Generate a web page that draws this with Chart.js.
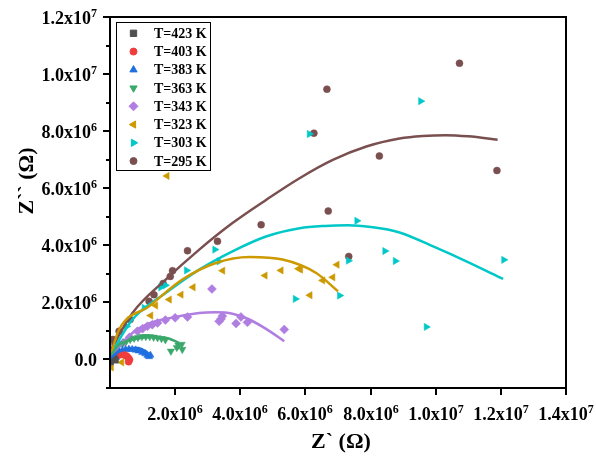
<!DOCTYPE html>
<html>
<head>
<meta charset="utf-8">
<script src="https://cdn.jsdelivr.net/npm/chart.js@4/dist/chart.umd.min.js"></script>
<style>
  body { margin: 0; background: #fff; }
  #chart { display: block; }
</style>
</head>
<body>
<canvas id="chart" width="596" height="459"></canvas>
<script>
// series labels
const labels = ['T=423 K', 'T=403 K', 'T=383 K', 'T=363 K', 'T=343 K', 'T=323 K', 'T=303 K', 'T=295 K'];

// measured points (Z', Z'')
const x423 = [1.0e4, 3.0e4, 6.0e4, 9.0e4, 1.2e5, 1.6e5];
const y423 = [-8e4, 2e4, 9e4, 1.2e5, 6e4, -2e4];
const x403 = [2.0e5, 2.8e5, 3.6e5, 4.4e5, 5.1e5, 5.6e5, 6.0e5, 5.7e5];
const y403 = [1.0e5, 1.6e5, 1.8e5, 1.6e5, 1.2e5, 6e4, -1e4, -8e4];
const x383 = [2e4, 1.0e5, 1.8e5, 2.8e5, 3.8e5, 4.8e5, 5.8e5, 6.8e5, 7.9e5, 8.8e5, 9.9e5, 1.08e6, 1.15e6, 1.2e6, 1.24e6];
const y383 = [2e4, 1.3e5, 2.1e5, 2.7e5, 3.2e5, 3.5e5, 3.6e5, 3.5e5, 3.3e5, 3.0e5, 2.5e5, 2.0e5, 1.4e5, 1.0e5, 1.5e5];
const x363 = [5e4, 1.5e5, 2.6e5, 3.8e5, 5.0e5, 6.2e5, 7.4e5, 8.6e5, 9.8e5, 1.1e6, 1.22e6, 1.34e6, 1.46e6, 1.58e6, 1.7e6, 1.87e6, 2.05e6, 2.2e6, 2.22e6, 2.1e6];
const y363 = [1.5e5, 3.3e5, 4.6e5, 5.6e5, 6.4e5, 7.0e5, 7.4e5, 7.7e5, 8.0e5, 8.0e5, 8.0e5, 7.8e5, 7.6e5, 7.3e5, 6.9e5, 2.9e5, 4.2e5, 5.3e5, 3.5e5, 5.0e5];
const x343 = [5e4, 2.0e5, 4.0e5, 6.0e5, 8.4e5, 1.0e6, 1.15e6, 1.3e6, 1.46e6, 1.7e6, 2.0e6, 2.38e6, 3.13e6, 3.35e6, 3.41e6, 3.45e6, 3.87e6, 4.02e6, 4.22e6, 5.35e6];
const y343 = [1e5, 3.5e5, 5.8e5, 7.8e5, 9.9e5, 1.08e6, 1.16e6, 1.22e6, 1.28e6, 1.38e6, 1.46e6, 1.49e6, 2.47e6, 1.34e6, 1.42e6, 1.52e6, 1.26e6, 1.49e6, 1.30e6, 1.05e6];
const x323 = [4e4, 3.6e5, 1.25e6, 1.4e6, 1.75e6, 1.82e6, 2.18e6, 2.55e6, 3.46e6, 4.76e6, 5.25e6, 5.79e6, 5.85e6, 6.14e6, 6.53e6, 6.84e6, 6.97e6];
const y323 = [-2.8e5, -1e5, 1.54e6, 1.89e6, 6.43e6, 2.1e6, 2.27e6, 2.53e6, 3.11e6, 2.94e6, 3.12e6, 3.18e6, 3.15e6, 2.25e6, 2.77e6, 2.88e6, 3.32e6];
const x303 = [2e4, 1.7e5, 5.1e5, 1.05e6, 1.56e6, 1.7e6, 2.35e6, 3.22e6, 3.35e6, 5.69e6, 6.12e6, 7.05e6, 7.32e6, 7.58e6, 8.44e6, 8.76e6, 9.54e6, 9.71e6, 1.209e7];
const y303 = [-1e5, 0, 1.16e6, 1.81e6, 2.53e6, 2.6e6, 3.12e6, 3.85e6, 3.44e6, 2.12e6, 7.9e6, 2.24e6, 3.46e6, 4.86e6, 3.80e6, 3.45e6, 9.05e6, 1.14e6, 3.49e6];
const x295 = [2e4, 9e4, 1.5e5, 2.8e5, 6.2e5, 1.2e6, 1.35e6, 1.63e6, 1.85e6, 1.92e6, 2.38e6, 3.30e6, 4.64e6, 6.26e6, 6.66e6, 6.70e6, 7.33e6, 8.27e6, 1.073e7, 1.188e7];
const y295 = [3e5, 7e5, 5.5e5, 9.9e5, 1.40e6, 2.04e6, 2.27e6, 2.66e6, 2.91e6, 3.11e6, 3.81e6, 4.14e6, 4.72e6, 7.93e6, 9.47e6, 5.2e6, 3.61e6, 7.13e6, 1.038e7, 6.62e6];

// fitted arcs
const fit383x = [2e4, 2.5e5, 4.8e5, 7.9e5, 1.1e6, 1.25e6];
const fit383y = [5e4, 2.6e5, 3.5e5, 4.1e5, 2.9e5, 1.2e5];
const fit363x = [3e4, 2.8e5, 6.9e5, 1.2e6, 1.71e6, 2.12e6];
const fit363y = [1.5e5, 5.2e5, 7.0e5, 7.9e5, 7.6e5, 5.8e5];
const fit343x = [3e4, 6.9e5, 1.2e6, 1.71e6, 2.74e6, 3.25e6, 3.76e6, 4.28e6, 4.79e6, 5.35e6];
const fit343y = [1.5e5, 9.3e5, 1.26e6, 1.42e6, 1.63e6, 1.65e6, 1.60e6, 1.40e6, 1.07e6, 6.4e5];
const fit323x = [3e4, 2.8e5, 1.2e6, 2.22e6, 3.25e6, 4.28e6, 5.30e6, 6.33e6, 7.0e6];
const fit323y = [2e5, 1.05e6, 1.86e6, 2.80e6, 3.38e6, 3.59e6, 3.50e6, 3.03e6, 2.39e6];
const fit303x = [3e4, 6.9e5, 1.71e6, 2.74e6, 3.76e6, 4.79e6, 5.82e6, 6.6e6, 7.3e6, 8.0e6, 8.89e6, 9.92e6, 1.094e7, 1.207e7];
const fit303y = [2e5, 1.40e6, 2.33e6, 3.15e6, 3.79e6, 4.31e6, 4.60e6, 4.68e6, 4.70e6, 4.64e6, 4.45e6, 3.96e6, 3.44e6, 2.82e6];
const fit295x = [3e4, 6.9e5, 1.71e6, 2.74e6, 3.76e6, 4.79e6, 5.82e6, 6.84e6, 7.87e6, 8.89e6, 9.6e6, 1.03e7, 1.1e7, 1.19e7];
const fit295y = [3.5e5, 1.63e6, 2.80e6, 3.85e6, 4.78e6, 5.59e6, 6.35e6, 6.99e6, 7.46e6, 7.74e6, 7.83e6, 7.86e6, 7.82e6, 7.70e6];

// axis ticks
const xTicks = [2e6, 4e6, 6e6, 8e6, 1e7, 1.2e7, 1.4e7];
const xTickBase = ['2.0x10', '4.0x10', '6.0x10', '8.0x10', '1.0x10', '1.2x10', '1.4x10'];
const xTickExp = ['6', '6', '6', '6', '7', '7', '7'];
const yTicks = [0, 2e6, 4e6, 6e6, 8e6, 1e7, 1.2e7];
const yTickBase = ['0.0', '2.0x10', '4.0x10', '6.0x10', '8.0x10', '1.0x10', '1.2x10'];
const yTickExp = ['', '6', '6', '6', '6', '7', '7'];
const yMinor = [-1e6, 1e6, 3e6, 5e6, 7e6, 9e6, 1.1e7];

const colors = ['#505050', '#f03c3c', '#1f6fe0', '#3aa86b', '#b07ee0', '#cc9900', '#00c8c8', '#7a4f4f'];
const styles = [
  { pointStyle: 'rect', rotation: 0, radius: 4.5 },
  { pointStyle: 'circle', rotation: 0, radius: 3.5 },
  { pointStyle: 'triangle', rotation: 0, radius: 4.2 },
  { pointStyle: 'triangle', rotation: 180, radius: 4.2 },
  { pointStyle: 'rectRot', rotation: 0, radius: 4.5 },
  { pointStyle: 'triangle', rotation: 270, radius: 4.2 },
  { pointStyle: 'triangle', rotation: 90, radius: 4.2 },
  { pointStyle: 'circle', rotation: 0, radius: 3.5 }
];

const pts = (xs, ys) => xs.map((x, i) => ({ x: x, y: ys[i] }));

const seriesX = [x423, x403, x383, x363, x343, x323, x303, x295];
const seriesY = [y423, y403, y383, y363, y343, y323, y303, y295];

const datasets = [];
seriesX.forEach((xs, i) => {
  datasets.push({
    label: labels[i],
    data: pts(xs, seriesY[i]),
    showLine: false,
    backgroundColor: colors[i],
    borderColor: colors[i],
    pointStyle: styles[i].pointStyle,
    pointRotation: styles[i].rotation,
    pointRadius: styles[i].radius,
    pointBorderWidth: 0.5,
    order: 1
  });
});

const fits = [
  [fit383x, fit383y, 2], [fit363x, fit363y, 3], [fit343x, fit343y, 4],
  [fit323x, fit323y, 5], [fit303x, fit303y, 6], [fit295x, fit295y, 7]
];
fits.forEach(f => {
  datasets.push({
    label: 'fit',
    data: pts(f[0], f[1]),
    showLine: true,
    borderColor: colors[f[2]],
    borderWidth: 2.5,
    pointRadius: 0,
    cubicInterpolationMode: 'monotone',
    fill: false,
    order: 0
  });
});

const SERIF = '"Liberation Serif", "Times New Roman", serif';

const framePlugin = {
  id: 'frame',
  afterDraw(chart) {
    const ctx = chart.ctx;
    const a = chart.chartArea;
    const xs = chart.scales.x, ys = chart.scales.y;
    ctx.save();
    ctx.strokeStyle = '#000';
    ctx.fillStyle = '#000';

    // box
    ctx.lineWidth = 2;
    ctx.strokeRect(a.left, a.top, a.right - a.left, a.bottom - a.top);

    // x ticks + labels
    xTicks.forEach((v, i) => {
      const px = Math.round(xs.getPixelForValue(v));
      ctx.beginPath();
      ctx.moveTo(px, a.bottom);
      ctx.lineTo(px, a.bottom + 7);
      ctx.stroke();
      drawSup(ctx, xTickBase[i], xTickExp[i], px, 420, 'center');
    });

    // y ticks + labels
    yTicks.forEach((v, i) => {
      const py = Math.round(ys.getPixelForValue(v));
      ctx.beginPath();
      ctx.moveTo(a.left, py);
      ctx.lineTo(a.left - 7, py);
      ctx.stroke();
      drawSup(ctx, yTickBase[i], yTickExp[i], 97, py + 7, 'right');
    });
    yMinor.forEach(v => {
      const py = Math.round(ys.getPixelForValue(v));
      ctx.beginPath();
      ctx.moveTo(a.left, py);
      ctx.lineTo(a.left - 4, py);
      ctx.stroke();
    });

    // axis titles
    ctx.font = 'bold 22px ' + SERIF;
    ctx.textAlign = 'center';
    ctx.textBaseline = 'middle';
    ctx.fillText('Z` (\u03A9)', 341, 442);
    ctx.save();
    ctx.translate(27, 181);
    ctx.rotate(-Math.PI / 2);
    ctx.fillText('Z`` (\u03A9)', 0, 0);
    ctx.restore();

    // legend
    ctx.lineWidth = 1;
    ctx.strokeRect(116.5, 22.5, 94, 148);
    ctx.font = 'bold 14px ' + SERIF;
    ctx.textAlign = 'left';
    ctx.textBaseline = 'middle';
    labels.forEach((lab, i) => {
      const y = 33.3 + i * 18.25;
      ctx.fillStyle = colors[i];
      ctx.strokeStyle = colors[i];
      Chart.helpers.drawPoint(ctx, {
        pointStyle: styles[i].pointStyle,
        rotation: styles[i].rotation,
        radius: styles[i].radius,
        borderWidth: 0.5
      }, 133.5, y);
      ctx.fillStyle = '#000';
      ctx.fillText(lab, 154, y + 1);
    });
    ctx.restore();
  }
};

function drawSup(ctx, base, exp, x, baseline, align) {
  ctx.textBaseline = 'alphabetic';
  ctx.textAlign = 'left';
  ctx.font = 'bold 18px ' + SERIF;
  const wb = ctx.measureText(base).width;
  ctx.font = 'bold 12px ' + SERIF;
  const we = exp ? ctx.measureText(exp).width : 0;
  const total = wb + we;
  const left = align === 'center' ? x - total / 2 : x - total;
  ctx.font = 'bold 18px ' + SERIF;
  ctx.fillText(base, left, baseline);
  if (exp) {
    ctx.font = 'bold 12px ' + SERIF;
    ctx.fillText(exp, left + wb, baseline - 7);
  }
}

new Chart(document.getElementById('chart'), {
  type: 'scatter',
  data: { datasets: datasets },
  options: {
    responsive: false,
    animation: false,
    layout: { padding: { left: 110, right: 30, top: 17, bottom: 71 } },
    scales: {
      x: { type: 'linear', min: 0, max: 1.4e7, display: false },
      y: { type: 'linear', min: -1e6, max: 1.2e7, display: false }
    },
    plugins: {
      legend: { display: false },
      tooltip: { enabled: false }
    }
  },
  plugins: [framePlugin]
});
</script>
</body>
</html>
